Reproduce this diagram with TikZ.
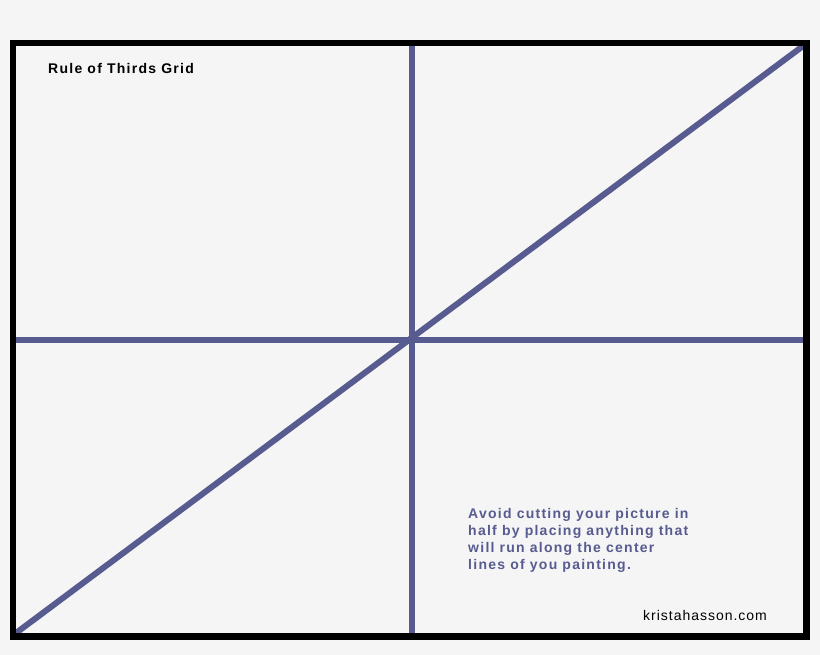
\documentclass[tikz,border=0pt]{standalone}
\usepackage{fontspec}
\setmainfont{Liberation Sans}
\newfontfamily\notefont[LetterSpace=7]{Liberation Sans}
\newfontfamily\headfont[LetterSpace=9]{Liberation Sans}
\usepackage{tikz}
\usepackage[dvipsnames]{xcolor}

\definecolor{paper}{RGB}{245,245,245}
\definecolor{gridblue}{RGB}{87,91,143}

\tikzset{
  thirdline/.style={draw=gridblue, line width=6pt},
  frameline/.style={draw=black, line width=6.5pt},
  notetext/.style={inner sep=0pt, anchor=base west, font=\notefont\fontsize{14}{17}\selectfont},
  headtext/.style={notetext, font=\headfont\bfseries\fontsize{14}{17}\selectfont}
}

\begin{document}
\begin{tikzpicture}[x=1pt,y=1pt]
    \fill[paper] (0,0) rectangle (820,655);
    \useasboundingbox (0,0) rectangle (820,655);
    % corners and centre lines
    \coordinate (BL) at (16,22);
    \coordinate (TR) at (803,609);
    \coordinate (VT) at (412,609);
    \coordinate (VB) at (412,22);
    \coordinate (HL) at (16,315);
    \coordinate (HR) at (803,315);
    \draw[thirdline] (VT) -- (VB);
    \draw[thirdline] (HL) -- (HR);
    \draw[thirdline] (BL) -- (TR);
    \draw[frameline] (13,18.5) rectangle (806.5,612);
    % texts
    \node[headtext] (title) at (48,581) {Rule of Thirds Grid};
    \node[headtext, text=gridblue, align=left] (advice) at (468,85)
      {Avoid cutting your picture in\\half by placing anything that\\will run along the center\\lines of you painting.};
    \node[notetext] (site) at (643,34.3) {kristahasson.com};
\end{tikzpicture}
\end{document}
